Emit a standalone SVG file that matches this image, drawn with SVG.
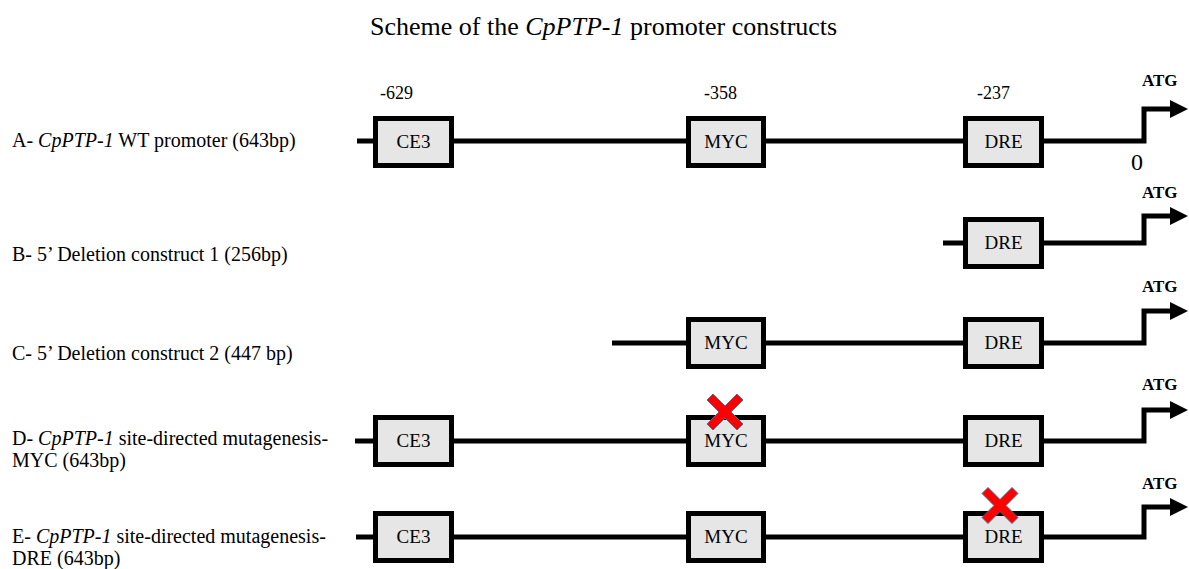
<svg xmlns="http://www.w3.org/2000/svg" width="1189" height="569" viewBox="0 0 1189 569">
<style>
text{font-family:"Liberation Serif","Times New Roman",serif;fill:#000}
.title{font-size:26px}
.lbl{font-size:20px}
.num{font-size:18px}
.zero{font-size:24px}
.atg{font-size:17px;font-weight:bold}
.bt{font-size:19px;text-anchor:middle}
.it{font-style:italic}
.ln{fill:none;stroke:#000;stroke-width:5;stroke-linejoin:miter}
.box{fill:#e6e6e6;stroke:#000;stroke-width:5}
.ah{fill:#000}
.x{fill:#ff0000;stroke:#41719c;stroke-width:1}
</style>
<defs>
<polygon id="cross" class="x" points="-18,-12 -12,-18 0,-6 12,-18 18,-12 6,0 18,12 12,18 0,6 -12,18 -18,12 -6,0"/>
</defs>
<rect width="1189" height="569" fill="#fff"/>
<text class="title" x="370" y="35">Scheme of the <tspan class="it">CpPTP-1</tspan> promoter constructs</text>
<g id="labels">
<text class="lbl" x="12" y="147">A- <tspan class="it">CpPTP-1</tspan> WT promoter (643bp)</text>
<text class="lbl" x="12" y="261">B- 5’ Deletion construct 1 (256bp)</text>
<text class="lbl" x="12" y="360">C- 5’ Deletion construct 2 (447 bp)</text>
<text class="lbl" x="12" y="445">D- <tspan class="it">CpPTP-1</tspan> site-directed mutagenesis-</text>
<text class="lbl" x="12" y="467">MYC (643bp)</text>
<text class="lbl" x="12" y="543">E- <tspan class="it">CpPTP-1</tspan> site-directed mutagenesis-</text>
<text class="lbl" x="12" y="565">DRE (643bp)</text>
</g>
<g id="positions">
<text class="num" x="380" y="99">-629</text>
<text class="num" x="704" y="99">-358</text>
<text class="num" x="977" y="99">-237</text>
<text class="zero" x="1131" y="170">0</text>
</g>
<g id="connectors">
<polyline class="ln" points="357,141 1144,141 1144,109 1172,109"/>
<polygon class="ah" points="1170,100 1188,109 1170,118"/>
<polyline class="ln" points="943,243 1144,243 1144,216 1172,216"/>
<polygon class="ah" points="1170,207 1188,216 1170,225"/>
<polyline class="ln" points="612,343 1144,343 1144,311 1172,311"/>
<polygon class="ah" points="1170,302 1188,311 1170,320"/>
<polyline class="ln" points="355,441 1144,441 1144,410 1172,410"/>
<polygon class="ah" points="1170,401 1188,410 1170,419"/>
<polyline class="ln" points="356,537 1144,537 1144,507 1172,507"/>
<polygon class="ah" points="1170,498 1188,507 1170,516"/>
</g>
<g id="atg">
<text class="atg" x="1142" y="86">ATG</text>
<text class="atg" x="1142" y="198">ATG</text>
<text class="atg" x="1142" y="292">ATG</text>
<text class="atg" x="1142" y="390">ATG</text>
<text class="atg" x="1142" y="489">ATG</text>
</g>
<g id="A-CE3"><rect class="box" x="375.5" y="118.5" width="76" height="47"/><text class="bt" x="413.5" y="148">CE3</text></g>
<g id="A-MYC"><rect class="box" x="688.5" y="118.5" width="75" height="47"/><text class="bt" x="726" y="148">MYC</text></g>
<g id="A-DRE"><rect class="box" x="965.5" y="118.5" width="76" height="47"/><text class="bt" x="1003.5" y="148">DRE</text></g>
<g id="B-DRE"><rect class="box" x="965.5" y="219.5" width="76" height="47"/><text class="bt" x="1003.5" y="249">DRE</text></g>
<g id="C-MYC"><rect class="box" x="688.5" y="319.5" width="75" height="47"/><text class="bt" x="726" y="349">MYC</text></g>
<g id="C-DRE"><rect class="box" x="965.5" y="319.5" width="76" height="47"/><text class="bt" x="1003.5" y="349">DRE</text></g>
<g id="D-CE3"><rect class="box" x="375.5" y="417.5" width="76" height="47"/><text class="bt" x="413.5" y="447">CE3</text></g>
<g id="D-MYC"><rect class="box" x="688.5" y="417.5" width="75" height="47"/><text class="bt" x="726" y="447">MYC</text></g>
<g id="D-DRE"><rect class="box" x="965.5" y="417.5" width="76" height="47"/><text class="bt" x="1003.5" y="447">DRE</text></g>
<g id="E-CE3"><rect class="box" x="375.5" y="513.5" width="76" height="47"/><text class="bt" x="413.5" y="543">CE3</text></g>
<g id="E-MYC"><rect class="box" x="688.5" y="513.5" width="75" height="47"/><text class="bt" x="726" y="543">MYC</text></g>
<g id="E-DRE"><rect class="box" x="965.5" y="513.5" width="76" height="47"/><text class="bt" x="1003.5" y="543">DRE</text></g>
<g id="mutations">
<use href="#cross" x="725" y="412"/>
<use href="#cross" x="1000" y="505.5"/>
</g>
</svg>
